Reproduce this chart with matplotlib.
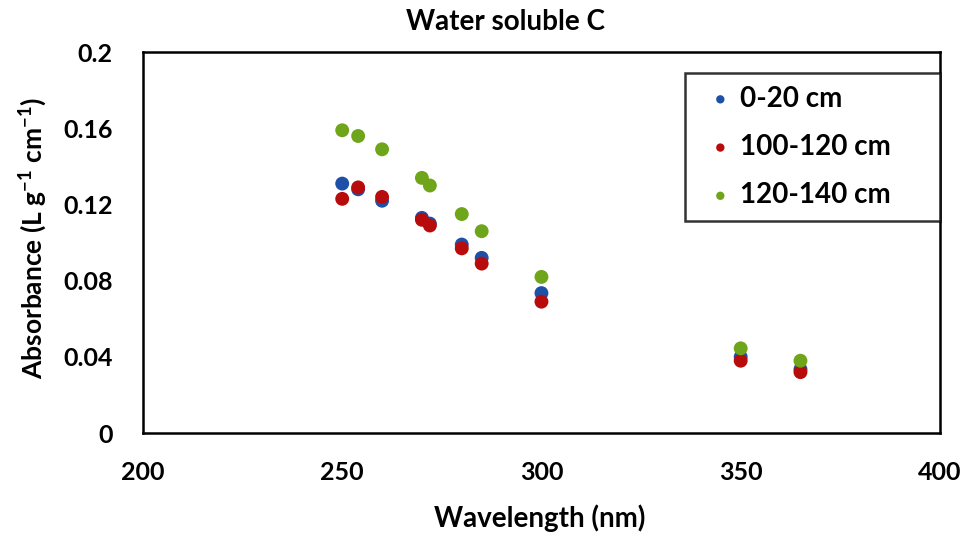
import matplotlib
matplotlib.use('Agg')
import matplotlib.pyplot as plt

# absorbance spectra of water soluble C at three depths
wavelength = [250, 254, 260, 270, 272, 280, 285, 300, 350, 365]
depth_0_20 = [0.131, 0.128, 0.122, 0.113, 0.110, 0.099, 0.092, 0.0735, 0.040, 0.0335]
depth_100_120 = [0.123, 0.129, 0.124, 0.112, 0.109, 0.097, 0.089, 0.069, 0.038, 0.032]
depth_120_140 = [0.159, 0.156, 0.149, 0.134, 0.130, 0.115, 0.106, 0.082, 0.0445, 0.038]
labels = ['0-20 cm', '100-120 cm', '120-140 cm']
colors = ['#1F50A8', '#B80C0C', '#6FA51A']

plt.rcParams['font.family'] = ['Lato', 'DejaVu Sans']
plt.rcParams['mathtext.default'] = 'regular'

fig = plt.figure(figsize=(9.68, 5.38), dpi=100)
ax = fig.add_axes([0.1477, 0.195, 0.8233, 0.708])

for ys, lab, col in zip([depth_0_20, depth_100_120, depth_120_140], labels, colors):
    ax.scatter(wavelength, ys, s=100, color=col, label=lab, edgecolors='none')

ax.set_xlim(200, 400)
ax.set_ylim(0, 0.2)
ax.set_xticks([200, 250, 300, 350, 400])
ax.set_yticks([0, 0.04, 0.08, 0.12, 0.16, 0.2])
ax.set_yticklabels(['0', '0.04', '0.08', '0.12', '0.16', '0.2'])
ax.tick_params(length=0, labelsize=18)
ax.tick_params(axis='y', pad=22)
ax.tick_params(axis='x', pad=20)
for lbl in ax.get_xticklabels() + ax.get_yticklabels():
    lbl.set_fontweight('bold')
for sp in ax.spines.values():
    sp.set_linewidth(1.8)
    sp.set_color('black')

fig.text(505 / 968, 1 - 22 / 538, 'Water soluble C', ha='center', va='center', fontsize=20, fontweight='bold')
fig.text(540 / 968, 1 - 518 / 538, 'Wavelength (nm)', ha='center', va='center', fontsize=20, fontweight='bold')
fig.text(33 / 968, 1 - 238 / 538, 'Absorbance (L g$^{-1}$ cm$^{-1}$)', ha='center', va='center',
         rotation=90, fontsize=19, fontweight='bold')

leg = ax.legend(loc='upper left', bbox_to_anchor=(0.68, 0.5, 0.32, 0.445), mode='expand',
                frameon=True, fancybox=False, edgecolor='black', fontsize=20, markerscale=0.6,
                handletextpad=-0.1, labelspacing=0.8, borderpad=0.45, handlelength=1.65,
                borderaxespad=0)
leg.get_frame().set_linewidth(1.8)
for t in leg.get_texts():
    t.set_fontweight('bold')

fig.savefig('out.png', dpi=100)
